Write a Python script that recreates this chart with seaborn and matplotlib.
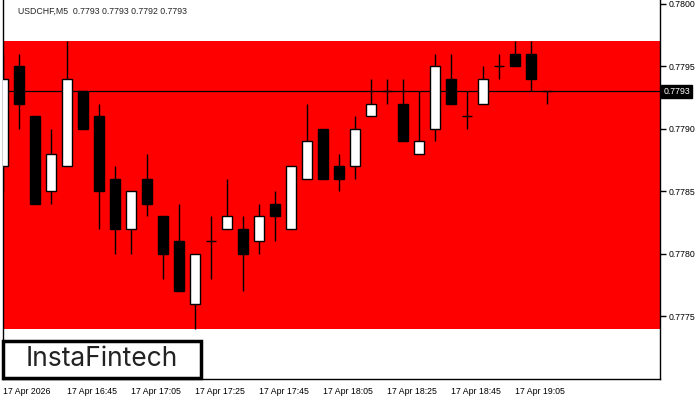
import matplotlib
matplotlib.use("Agg")
import matplotlib.pyplot as plt
import seaborn as sns
import numpy as np
from matplotlib.patches import Rectangle

opens  = [.7787,.7795,.7791,.7785,.7787,.7793,.7791,.7786,.7782,.7786,.7783,.7781,.7776,.7781,.7782,.7782,.7781,.7784,.7782,.7786,.7790,.7787,.7787,.7791,.7793,.7792,.7788,.7790,.7794,.7791,.7792,.7795,.7796,.7796,.7793]
highs  = [.7796,.7796,.7791,.7790,.7797,.7793,.7792,.7787,.7785,.7788,.7783,.7784,.7780,.7783,.7786,.7783,.7784,.7785,.7787,.7792,.7790,.7788,.7791,.7794,.7794,.7794,.7793,.7796,.7796,.7793,.7795,.7796,.7797,.7797,.7793]
lows   = [.7785,.7790,.7784,.7784,.7787,.7790,.7782,.7780,.7780,.7783,.7778,.7777,.7774,.7778,.7782,.7777,.7780,.7781,.7782,.7786,.7786,.7785,.7786,.7791,.7792,.7789,.7788,.7789,.7792,.7790,.7792,.7794,.7795,.7793,.7792]
closes = [.7794,.7792,.7784,.7788,.7794,.7790,.7785,.7782,.7785,.7784,.7780,.7777,.7780,.7781,.7783,.7780,.7783,.7783,.7787,.7789,.7786,.7786,.7790,.7792,.7793,.7789,.7789,.7795,.7792,.7791,.7794,.7795,.7795,.7794,.7793]
time_labels = ["17 Apr 2026","17 Apr 16:45","17 Apr 17:05","17 Apr 17:25","17 Apr 17:45",
               "17 Apr 18:05","17 Apr 18:25","17 Apr 18:45","17 Apr 19:05"]
price_ticks = [0.7775,0.7780,0.7785,0.7790,0.7795,0.7800]
zone_top, zone_bottom = 0.7797, 0.7774
current = 0.7793
title = "USDCHF,M5  0.7793 0.7793 0.7792 0.7793"

sns.set_style("white")
plt.rcParams['font.family'] = ['Liberation Sans', 'DejaVu Sans']
fs = 6.3
fig = plt.figure(figsize=(7, 4), dpi=100)
ax = fig.add_axes([3/700, 21/400, 657/700, 379/400])
ax.set_xlim(0, 41.06)
ax.set_ylim(0.7770, 0.780032)

ax.axhspan(zone_bottom, zone_top, color="#ff0000", zorder=0, lw=0)
ax.axhline(current, color="black", lw=0.9, zorder=1)

x = np.arange(len(opens))
ax.vlines(x, lows, highs, color="black", lw=1, zorder=2)
w = 0.66
for i in x:
    o, c = opens[i], closes[i]
    if c > o:
        fc = "white"
    elif c < o:
        fc = "black"
    else:
        ax.hlines(o, i - w/2, i + w/2, color="black", lw=1, zorder=3)
        continue
    ax.add_patch(Rectangle((i - w/2, min(o, c)), w, abs(c - o), facecolor=fc,
                           edgecolor="black", lw=1, zorder=3))

ax.yaxis.tick_right()
ax.set_yticks(price_ticks)
ax.set_yticklabels([f"{p:.4f}" for p in price_ticks], color="#1a1a40", fontsize=fs)
ax.set_xticks(np.arange(0, 4*len(time_labels), 4))
ax.set_xticklabels(time_labels, fontsize=fs, ha="left", color="black")
ax.tick_params(axis="both", length=4, width=1, direction="out", colors="black", pad=2)
for s in ["left", "right", "bottom"]:
    ax.spines[s].set_visible(True)
    ax.spines[s].set_color("black")
    ax.spines[s].set_linewidth(1)
ax.spines["top"].set_visible(False)

ax.text(1.005, current, "0.7793", transform=ax.get_yaxis_transform(), va="center",
        ha="left", fontsize=fs, color="white",
        bbox=dict(boxstyle="square,pad=0.25", fc="black", ec="black"))

fig.text(18/700, 1 - 11/400, title, fontsize=fs, va="center", ha="left")

fig.patches.append(Rectangle((3/700, 22/400), 198/700, 37/400, transform=fig.transFigure,
                             facecolor="white", edgecolor="black", lw=2.5, zorder=5))
fig.text(102/700, 1 - 359/400, "InstaFintech", fontsize=19, va="center", ha="center",
         color="#222222", zorder=6, family=["Inter", "DejaVu Sans"])

fig.savefig("out.png", dpi=100)
